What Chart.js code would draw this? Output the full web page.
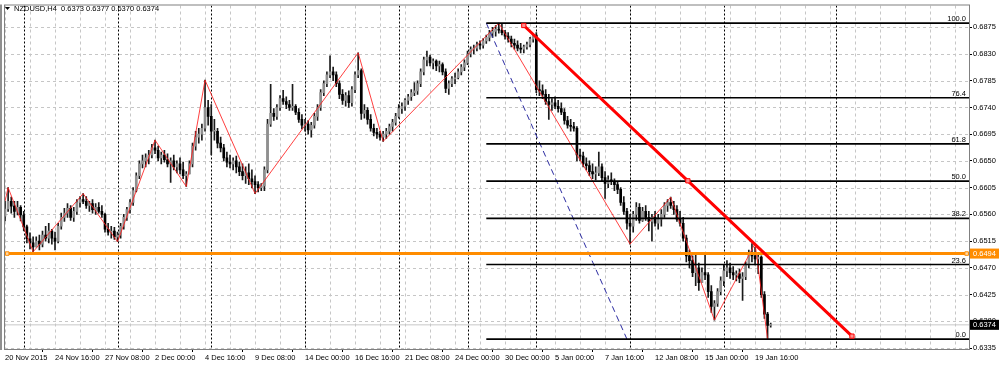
<!DOCTYPE html>
<html>
<head>
<meta charset="utf-8">
<title>NZDUSD,H4</title>
<script src="https://cdn.jsdelivr.net/npm/chart.js@4.4.1/dist/chart.umd.min.js"></script>
<style>
	html, body { margin: 0; padding: 0; background: #fff; }
	#wrap { width: 1000px; height: 367px; }
</style>
</head>
<body>
<div id="wrap"><canvas id="chart" width="1000" height="367"></canvas></div>
<script>
// NZDUSD H4 bars, 20 Nov 2015 .. 20 Jan 2016 (bar index = position on the time axis)
const firstOpen = 0.6557;
const closes = [
	0.6569, 0.6582, 0.6574, 0.6565, 0.6572, 0.6559, 0.6539, 0.6519, 0.6512, 0.6505,
	0.6515, 0.6510, 0.6525, 0.6520, 0.6532, 0.6520, 0.6515, 0.6540, 0.6555, 0.6562,
	0.6570, 0.6555, 0.6565, 0.6580, 0.6585, 0.6582, 0.6575, 0.6578, 0.6568, 0.6572,
	0.6565, 0.6560, 0.6535, 0.6530, 0.6532, 0.6522, 0.6525, 0.6540, 0.6555, 0.6568,
	0.6580, 0.6600, 0.6625, 0.6645, 0.6650, 0.6655, 0.6660, 0.6672, 0.6668, 0.6655,
	0.6660, 0.6652, 0.6645, 0.6650, 0.6640, 0.6645, 0.6635, 0.6625, 0.6628, 0.6645,
	0.6675, 0.6690, 0.6695, 0.6705, 0.6740, 0.6725, 0.6700, 0.6700, 0.6680, 0.6672,
	0.6655, 0.6648, 0.6645, 0.6650, 0.6640, 0.6632, 0.6625, 0.6630, 0.6620, 0.6615,
	0.6610, 0.6605, 0.6608, 0.6635, 0.6712, 0.6730, 0.6725, 0.6740, 0.6755, 0.6750,
	0.6745, 0.6740, 0.6742, 0.6732, 0.6720, 0.6710, 0.6712, 0.6702, 0.6710, 0.6725,
	0.6740, 0.6765, 0.6780, 0.6795, 0.6800, 0.6795, 0.6780, 0.6762, 0.6752, 0.6760,
	0.6748, 0.6770, 0.6795, 0.6802, 0.6730, 0.6735, 0.6720, 0.6705, 0.6698, 0.6695,
	0.6690, 0.6695, 0.6700, 0.6708, 0.6715, 0.6725, 0.6738, 0.6742, 0.6752, 0.6758,
	0.6765, 0.6768, 0.6780, 0.6800, 0.6820, 0.6825, 0.6815, 0.6818, 0.6810, 0.6812,
	0.6800, 0.6772, 0.6780, 0.6788, 0.6790, 0.6800, 0.6808, 0.6815, 0.6830, 0.6838,
	0.6840, 0.6846, 0.6845, 0.6852, 0.6858, 0.6865, 0.6868, 0.6872, 0.6870, 0.6866,
	0.6860, 0.6855, 0.6848, 0.6845, 0.6840, 0.6838, 0.6842, 0.6846, 0.6855, 0.6862,
	0.6770, 0.6768, 0.6762, 0.6750, 0.6745, 0.6748, 0.6742, 0.6738, 0.6732, 0.6718,
	0.6710, 0.6708, 0.6705, 0.6660, 0.6658, 0.6645, 0.6642, 0.6632, 0.6628, 0.6630,
	0.6640, 0.6622, 0.6612, 0.6618, 0.6615, 0.6610, 0.6602, 0.6580, 0.6565, 0.6545,
	0.6540, 0.6560, 0.6572, 0.6550, 0.6565, 0.6555, 0.6548, 0.6555, 0.6545, 0.6552,
	0.6560, 0.6575, 0.6580, 0.6575, 0.6568, 0.6552, 0.6545, 0.6520, 0.6490, 0.6482,
	0.6462, 0.6470, 0.6445, 0.6462, 0.6458, 0.6430, 0.6405, 0.6410, 0.6430, 0.6448,
	0.6465, 0.6470, 0.6462, 0.6458, 0.6460, 0.6452, 0.6455, 0.6475, 0.6495, 0.6490,
	0.6485, 0.6488, 0.6425, 0.6392, 0.6373, 0.6374
];
const highs = [
	0.6582, 0.6605, 0.6589, 0.6582, 0.6582, 0.6575, 0.6565, 0.6542, 0.6529, 0.6522,
	0.6522, 0.6525, 0.6532, 0.6540, 0.6545, 0.6535, 0.6530, 0.6545, 0.6562, 0.6570,
	0.6578, 0.6575, 0.6572, 0.6585, 0.6590, 0.6595, 0.6590, 0.6582, 0.6585, 0.6578,
	0.6580, 0.6575, 0.6562, 0.6545, 0.6540, 0.6538, 0.6530, 0.6545, 0.6560, 0.6572,
	0.6585, 0.6605, 0.6630, 0.6650, 0.6660, 0.6662, 0.6668, 0.6678, 0.6685, 0.6675,
	0.6665, 0.6668, 0.6662, 0.6655, 0.6660, 0.6650, 0.6655, 0.6648, 0.6632, 0.6650,
	0.6680, 0.6700, 0.6705, 0.6712, 0.6786, 0.6752, 0.6745, 0.6720, 0.6705, 0.6690,
	0.6678, 0.6665, 0.6660, 0.6655, 0.6658, 0.6648, 0.6645, 0.6640, 0.6645, 0.6635,
	0.6625, 0.6615, 0.6612, 0.6640, 0.6720, 0.6779, 0.6738, 0.6745, 0.6760, 0.6769,
	0.6758, 0.6752, 0.6779, 0.6745, 0.6738, 0.6728, 0.6720, 0.6718, 0.6715, 0.6730,
	0.6745, 0.6770, 0.6785, 0.6800, 0.6827, 0.6808, 0.6800, 0.6785, 0.6770, 0.6765,
	0.6768, 0.6775, 0.6800, 0.6832, 0.6805, 0.6745, 0.6740, 0.6728, 0.6712, 0.6705,
	0.6700, 0.6700, 0.6705, 0.6712, 0.6720, 0.6730, 0.6745, 0.6748, 0.6755, 0.6762,
	0.6770, 0.6782, 0.6785, 0.6805, 0.6825, 0.6835, 0.6828, 0.6822, 0.6820, 0.6818,
	0.6815, 0.6805, 0.6785, 0.6792, 0.6798, 0.6805, 0.6812, 0.6820, 0.6835, 0.6842,
	0.6845, 0.6850, 0.6852, 0.6856, 0.6862, 0.6870, 0.6875, 0.6878, 0.6882, 0.6880,
	0.6870, 0.6866, 0.6860, 0.6855, 0.6852, 0.6848, 0.6845, 0.6850, 0.6858, 0.6865,
	0.6866, 0.6785, 0.6778, 0.6770, 0.6762, 0.6755, 0.6758, 0.6752, 0.6748, 0.6738,
	0.6725, 0.6720, 0.6715, 0.6708, 0.6670, 0.6665, 0.6655, 0.6650, 0.6645, 0.6640,
	0.6665, 0.6645, 0.6632, 0.6625, 0.6630, 0.6620, 0.6615, 0.6605, 0.6590, 0.6570,
	0.6560, 0.6565, 0.6580, 0.6578, 0.6572, 0.6575, 0.6565, 0.6560, 0.6565, 0.6560,
	0.6568, 0.6580, 0.6585, 0.6589, 0.6582, 0.6575, 0.6565, 0.6555, 0.6525, 0.6500,
	0.6490, 0.6495, 0.6478, 0.6470, 0.6494, 0.6462, 0.6440, 0.6415, 0.6435, 0.6455,
	0.6475, 0.6482, 0.6478, 0.6472, 0.6465, 0.6468, 0.6462, 0.6480, 0.6500, 0.6511,
	0.6505, 0.6495, 0.6490, 0.6430, 0.6395, 0.6377
];
const lows = [
	0.6549, 0.6565, 0.6562, 0.6555, 0.6559, 0.6549, 0.6532, 0.6512, 0.6502, 0.6497,
	0.6505, 0.6500, 0.6505, 0.6515, 0.6512, 0.6510, 0.6500, 0.6512, 0.6535, 0.6548,
	0.6555, 0.6550, 0.6548, 0.6560, 0.6572, 0.6578, 0.6570, 0.6565, 0.6562, 0.6560,
	0.6562, 0.6555, 0.6530, 0.6525, 0.6520, 0.6518, 0.6514, 0.6520, 0.6535, 0.6550,
	0.6562, 0.6575, 0.6598, 0.6620, 0.6638, 0.6640, 0.6645, 0.6655, 0.6662, 0.6650,
	0.6645, 0.6648, 0.6640, 0.6614, 0.6635, 0.6630, 0.6628, 0.6620, 0.6607, 0.6628,
	0.6640, 0.6668, 0.6680, 0.6685, 0.6700, 0.6710, 0.6660, 0.6685, 0.6672, 0.6665,
	0.6650, 0.6640, 0.6638, 0.6635, 0.6630, 0.6625, 0.6618, 0.6612, 0.6610, 0.6605,
	0.6595, 0.6598, 0.6600, 0.6600, 0.6630, 0.6708, 0.6718, 0.6720, 0.6735, 0.6745,
	0.6738, 0.6735, 0.6735, 0.6728, 0.6715, 0.6704, 0.6700, 0.6695, 0.6690, 0.6705,
	0.6718, 0.6735, 0.6760, 0.6775, 0.6790, 0.6785, 0.6775, 0.6755, 0.6745, 0.6742,
	0.6740, 0.6742, 0.6765, 0.6790, 0.6720, 0.6722, 0.6712, 0.6700, 0.6692, 0.6688,
	0.6685, 0.6683, 0.6688, 0.6695, 0.6700, 0.6710, 0.6722, 0.6730, 0.6735, 0.6745,
	0.6752, 0.6760, 0.6762, 0.6775, 0.6795, 0.6810, 0.6810, 0.6805, 0.6802, 0.6800,
	0.6795, 0.6765, 0.6762, 0.6775, 0.6780, 0.6788, 0.6795, 0.6802, 0.6812, 0.6825,
	0.6830, 0.6835, 0.6838, 0.6840, 0.6848, 0.6852, 0.6858, 0.6860, 0.6865, 0.6862,
	0.6855, 0.6850, 0.6842, 0.6838, 0.6835, 0.6832, 0.6832, 0.6838, 0.6842, 0.6850,
	0.6765, 0.6760, 0.6755, 0.6745, 0.6720, 0.6735, 0.6738, 0.6732, 0.6728, 0.6712,
	0.6705, 0.6700, 0.6700, 0.6650, 0.6650, 0.6640, 0.6635, 0.6625, 0.6620, 0.6618,
	0.6625, 0.6615, 0.6587, 0.6605, 0.6610, 0.6600, 0.6595, 0.6575, 0.6560, 0.6535,
	0.6510, 0.6530, 0.6550, 0.6545, 0.6548, 0.6550, 0.6532, 0.6515, 0.6540, 0.6535,
	0.6540, 0.6555, 0.6565, 0.6570, 0.6560, 0.6548, 0.6540, 0.6515, 0.6480, 0.6470,
	0.6455, 0.6440, 0.6432, 0.6445, 0.6450, 0.6420, 0.6395, 0.6382, 0.6405, 0.6425,
	0.6440, 0.6455, 0.6452, 0.6450, 0.6448, 0.6445, 0.6415, 0.6450, 0.6470, 0.6480,
	0.6475, 0.6460, 0.6420, 0.6385, 0.6350, 0.6370
];

// time axis
const labelIdx = [0, 16, 32, 48, 64, 80, 96, 112, 128, 144, 160, 176, 192, 208, 224, 240];
const timeLabels = ['20 Nov 2015', '24 Nov 16:00', '27 Nov 08:00', '2 Dec 00:00', '4 Dec 16:00',
	'9 Dec 08:00', '14 Dec 00:00', '16 Dec 16:00', '21 Dec 08:00', '24 Dec 00:00', '30 Dec 00:00',
	'5 Jan 00:00', '7 Jan 16:00', '12 Jan 08:00', '15 Jan 00:00', '19 Jan 16:00'];
const gridIdx = [0, 8, 16, 24, 32, 40, 48, 56, 64, 72, 80, 88, 96, 104, 112, 120, 128, 136, 144,
	152, 160, 168, 176, 184, 192, 200, 208, 216, 224, 232, 240, 248, 256, 264, 272, 280, 288, 296, 304];
const separatorIdx = [6, 36, 66, 96, 126, 148, 170, 200, 230, 266];

// price axis
const priceTicks = [0.6335, 0.6380, 0.6425, 0.6470, 0.6515, 0.6560, 0.6605, 0.6650, 0.6695,
	0.6740, 0.6785, 0.6830, 0.6875];

// objects on the chart
const zigzagIdx = [0, 1, 9, 25, 36, 48, 58, 64, 80, 113, 121, 158, 200, 213, 227, 240, 244];
const zigzagPrice = [0.6582, 0.6605, 0.6497, 0.6595, 0.6514, 0.6685, 0.6607, 0.6786, 0.6595,
	0.6832, 0.6683, 0.6882, 0.6510, 0.6589, 0.6382, 0.6511, 0.6350];
const trendIdx = [166, 271];
const trendPrice = [0.6878, 0.6355];
const fibIdx = [154, 199];
const fibPrice = [0.6882, 0.6350];
const fibLevels = [0, 23.6, 38.2, 50, 61.8, 76.4, 100];
const hLinePrice = 0.6494;
const bidPrice = 0.6374;

const X_MAX = 308.45;
const Y_MIN = 0.633333;
const Y_MAX = 0.691167;
const FONT = 'Liberation Sans';

const opens = closes.map((c, i) => (i === 0 ? firstOpen : closes[i - 1]));
const bodies = closes.map((c, i) => ({ x: i, y: [opens[i], c] }));
const wicks = closes.map((c, i) => ({ x: i, y: [lows[i], highs[i]] }));
const bodyColors = closes.map((c, i) => (c >= opens[i] ? '#8f8f8f' : '#000000'));

const fibLevelPrice = (lvl) => fibPrice[1] + ((fibPrice[0] - fibPrice[1]) * lvl) / 100;

const flat = (price) => [{ x: 0, y: price }, { x: X_MAX, y: price }];

const fibSets = fibLevels.map((lvl) => ({
	type: 'line',
	data: [{ x: fibIdx[0], y: fibLevelPrice(lvl) }, { x: X_MAX, y: fibLevelPrice(lvl) }],
	borderColor: '#000',
	borderWidth: 1.6,
	pointRadius: 0,
	order: 4,
}));

Chart.defaults.font.family = FONT;
Chart.defaults.font.size = 7.5;
Chart.defaults.color = '#000';

const mt4 = {
	id: 'mt4',
	beforeDatasetsDraw(chart) {
		const { ctx, chartArea: a, scales } = chart;
		ctx.save();
		ctx.beginPath();
		ctx.rect(a.left, a.top, a.right - a.left, a.bottom - a.top);
		ctx.clip();
		ctx.lineWidth = 1;
		ctx.strokeStyle = '#c6c6c6';
		ctx.setLineDash([3, 3]);
		gridIdx.forEach((v) => {
			const px = Math.round(scales.x.getPixelForValue(v)) + 0.5;
			ctx.beginPath(); ctx.moveTo(px, a.top); ctx.lineTo(px, a.bottom); ctx.stroke();
		});
		priceTicks.forEach((v) => {
			const py = Math.round(scales.y.getPixelForValue(v)) + 0.5;
			ctx.beginPath(); ctx.moveTo(a.left, py); ctx.lineTo(a.right, py); ctx.stroke();
		});
		// period separators
		ctx.strokeStyle = '#000';
		ctx.setLineDash([2, 2]);
		separatorIdx.forEach((v) => {
			const px = Math.round(scales.x.getPixelForValue(v)) + 0.5;
			ctx.beginPath(); ctx.moveTo(px, a.top); ctx.lineTo(px, a.bottom); ctx.stroke();
		});
		ctx.restore();
	},
	afterDatasetsDraw(chart) {
		const { ctx, chartArea: a, scales } = chart;
		ctx.save();
		ctx.font = '7.5px ' + FONT;
		ctx.fillStyle = '#000';
		ctx.textAlign = 'right';
		ctx.textBaseline = 'alphabetic';
		fibLevels.forEach((lvl) => {
			ctx.fillText(lvl.toFixed(1), a.right - 3, scales.y.getPixelForValue(fibLevelPrice(lvl)) - 2);
		});
		ctx.restore();
	},
	afterDraw(chart) {
		const { ctx, chartArea: a, scales } = chart;
		ctx.save();
		// frame
		ctx.strokeStyle = '#808080';
		ctx.lineWidth = 1;
		ctx.strokeRect(a.left - 0.5, a.top - 0.5, a.right - a.left + 1, a.bottom - a.top + 1);
		ctx.fillStyle = '#909090';
		ctx.fillRect(0, a.top - 1, 2, a.bottom - a.top + 2);
		// title
		ctx.fillStyle = '#000';
		ctx.beginPath(); ctx.moveTo(5, 7); ctx.lineTo(10, 7); ctx.lineTo(7.5, 10); ctx.closePath(); ctx.fill();
		ctx.font = '7.5px ' + FONT;
		ctx.textBaseline = 'middle';
		ctx.fillText('NZDUSD,H4  0.6373 0.6377 0.6370 0.6374', 14, 9);
		// price labels on the axis
		const box = (price, bg) => {
			const py = scales.y.getPixelForValue(price);
			ctx.fillStyle = bg;
			ctx.fillRect(a.right + 1, py - 5, 29, 10);
			ctx.fillStyle = '#fff';
			ctx.textAlign = 'left';
			ctx.fillText(price.toFixed(4), a.right + 4, py + 0.5);
		};
		box(hLinePrice, '#ff8c00');
		box(bidPrice, '#000');
		ctx.restore();
	},
};

const ctx = document.getElementById('chart').getContext('2d');

const chart = new Chart(ctx, {
	type: 'bar',
	data: {
		datasets: [
			{
				type: 'line',
				data: flat(bidPrice),
				borderColor: '#c8c8c8',
				borderWidth: 1,
				pointRadius: 0,
				order: 10,
			},
			{
				data: wicks,
				backgroundColor: '#1a1a1a',
				barThickness: 1,
				grouped: false,
				order: 9,
			},
			{
				data: bodies,
				backgroundColor: bodyColors,
				barThickness: 2,
				minBarLength: 1,
				grouped: false,
				order: 8,
			},
			{
				type: 'line',
				data: zigzagIdx.map((v, i) => ({ x: v, y: zigzagPrice[i] })),
				borderColor: 'rgba(255, 30, 30, 0.85)',
				borderWidth: 1,
				pointRadius: 0,
				order: 5,
			},
			...fibSets,
			{
				type: 'line',
				data: fibIdx.map((v, i) => ({ x: v, y: fibPrice[i] })),
				borderColor: '#2a2aa0',
				borderWidth: 1,
				borderDash: [6, 4],
				pointRadius: 0,
				order: 4,
			},
			{
				type: 'line',
				data: [{ x: 0, y: hLinePrice }, { x: 0.7, y: hLinePrice }, { x: 307.7, y: hLinePrice }, { x: X_MAX, y: hLinePrice }],
				borderColor: '#ff8c00',
				borderWidth: 3,
				pointStyle: 'rect',
				pointRadius: (c) => (c.dataIndex === 1 || c.dataIndex === 2 ? 2.5 : 0),
				pointBackgroundColor: '#ffd9a8',
				pointBorderColor: '#ff8c00',
				pointBorderWidth: 1,
				order: 3,
			},
			{
				type: 'line',
				data: [
					{ x: trendIdx[0], y: trendPrice[0] },
					{ x: (trendIdx[0] + trendIdx[1]) / 2, y: (trendPrice[0] + trendPrice[1]) / 2 },
					{ x: trendIdx[1], y: trendPrice[1] },
				],
				borderColor: '#ff0000',
				borderWidth: 3,
				pointStyle: 'rect',
				pointRadius: 3,
				pointBackgroundColor: '#ff9090',
				pointBorderColor: '#ff0000',
				pointBorderWidth: 1,
				order: 2,
			},
		],
	},
	options: {
		responsive: false,
		animation: false,
		events: [],
		layout: { padding: { left: 2, top: 2, right: 0, bottom: 0 } },
		plugins: { legend: { display: false }, tooltip: { enabled: false } },
		scales: {
			x: {
				type: 'linear',
				min: 0,
				max: X_MAX,
				offset: false,
				afterBuildTicks: (s) => { s.ticks = gridIdx.map((v) => ({ value: v })); },
				afterFit: (s) => { s.height = 18; },
				grid: {
					drawOnChartArea: false,
					tickLength: 3,
					tickColor: (c) => (c.tick && labelIdx.includes(c.tick.value) ? '#000' : 'rgba(0,0,0,0)'),
				},
				border: { color: '#808080' },
				ticks: {
					autoSkip: false,
					maxRotation: 0,
					align: 'start',
					padding: 1,
					callback: (v) => {
						const k = labelIdx.indexOf(v);
						return k >= 0 ? timeLabels[k] : '';
					},
				},
			},
			y: {
				position: 'right',
				min: Y_MIN,
				max: Y_MAX,
				afterBuildTicks: (s) => { s.ticks = priceTicks.map((v) => ({ value: v })); },
				afterFit: (s) => { s.width = 31; },
				grid: { drawOnChartArea: false, tickLength: 3, tickColor: '#000' },
				border: { color: '#808080' },
				ticks: { padding: 1, callback: (v) => v.toFixed(4) },
			},
		},
	},
	plugins: [mt4],
});
</script>
</body>
</html>
